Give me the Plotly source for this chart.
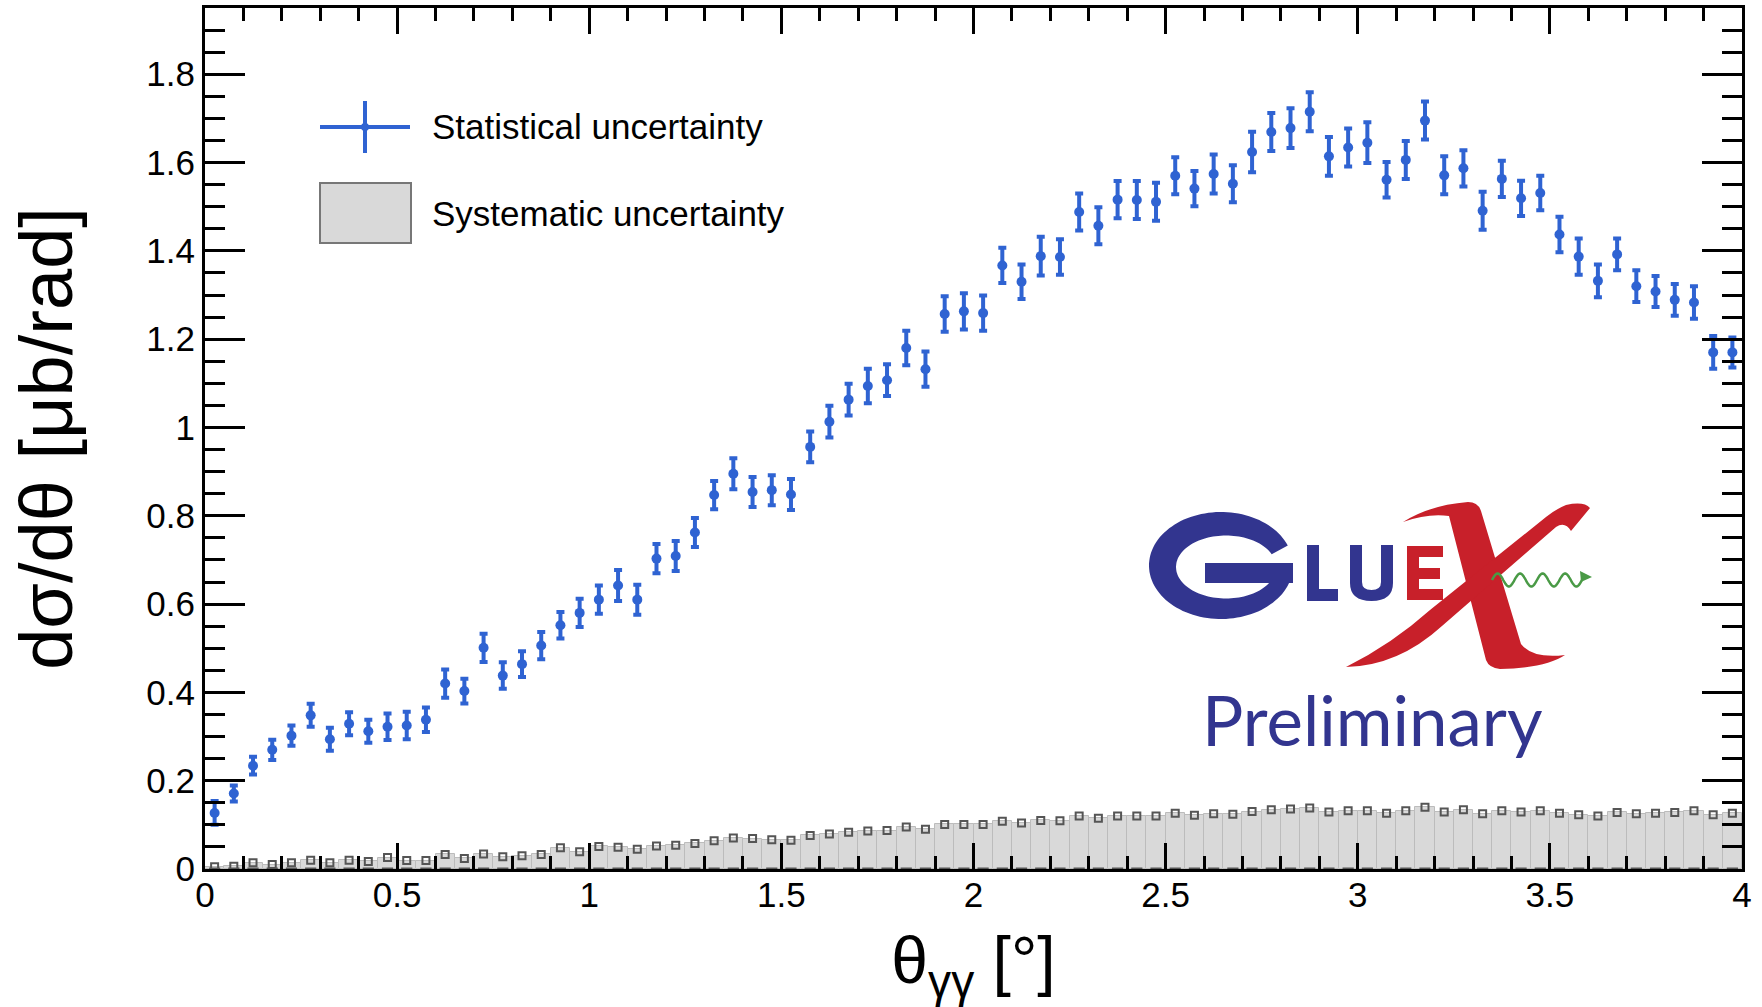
import re
import math
import plotly.graph_objects as go

# ---------------------------------------------------------------- data
theta_bins = [
    0.025, 0.075, 0.125, 0.175, 0.225, 0.275, 0.325, 0.375, 0.425, 0.475,
    0.525, 0.575, 0.625, 0.675, 0.725, 0.775, 0.825, 0.875, 0.925, 0.975,
    1.025, 1.075, 1.125, 1.175, 1.225, 1.275, 1.325, 1.375, 1.425, 1.475,
    1.525, 1.575, 1.625, 1.675, 1.725, 1.775, 1.825, 1.875, 1.925, 1.975,
    2.025, 2.075, 2.125, 2.175, 2.225, 2.275, 2.325, 2.375, 2.425, 2.475,
    2.525, 2.575, 2.625, 2.675, 2.725, 2.775, 2.825, 2.875, 2.925, 2.975,
    3.025, 3.075, 3.125, 3.175, 3.225, 3.275, 3.325, 3.375, 3.425, 3.475,
    3.525, 3.575, 3.625, 3.675, 3.725, 3.775, 3.825, 3.875, 3.925, 3.975,
]

dsigma = [
    0.127, 0.171, 0.234, 0.270, 0.302, 0.348, 0.294, 0.329, 0.312, 0.322,
    0.325, 0.338, 0.420, 0.403, 0.501, 0.438, 0.464, 0.506, 0.552, 0.580,
    0.610, 0.642, 0.610, 0.703, 0.709, 0.762, 0.847, 0.895, 0.854, 0.858,
    0.848, 0.956, 1.013, 1.063, 1.094, 1.107, 1.180, 1.132, 1.257, 1.263,
    1.259, 1.367, 1.330, 1.388, 1.386, 1.488, 1.457, 1.516, 1.515, 1.511,
    1.570, 1.541, 1.574, 1.552, 1.624, 1.669, 1.678, 1.715, 1.614, 1.634,
    1.645, 1.561, 1.606, 1.695, 1.571, 1.587, 1.491, 1.563, 1.519, 1.531,
    1.437, 1.387, 1.332, 1.392, 1.320, 1.308, 1.289, 1.283, 1.170, 1.170,
]

stat_err = [
    0.027, 0.018, 0.020, 0.023, 0.023, 0.026, 0.026, 0.026, 0.026, 0.030,
    0.031, 0.028, 0.032, 0.028, 0.032, 0.030, 0.029, 0.031, 0.030, 0.032,
    0.032, 0.035, 0.034, 0.033, 0.034, 0.033, 0.032, 0.035, 0.034, 0.034,
    0.035, 0.035, 0.036, 0.036, 0.039, 0.036, 0.039, 0.040, 0.040, 0.041,
    0.040, 0.040, 0.039, 0.044, 0.040, 0.042, 0.042, 0.042, 0.043, 0.043,
    0.042, 0.040, 0.044, 0.042, 0.046, 0.043, 0.045, 0.044, 0.044, 0.043,
    0.046, 0.040, 0.043, 0.043, 0.043, 0.041, 0.043, 0.041, 0.040, 0.039,
    0.040, 0.041, 0.037, 0.036, 0.036, 0.035, 0.036, 0.037, 0.037, 0.034,
]

syst_err = [
    0.005, 0.006, 0.014, 0.010, 0.014, 0.020, 0.014, 0.020, 0.017, 0.026,
    0.019, 0.019, 0.033, 0.024, 0.034, 0.028, 0.030, 0.033, 0.048, 0.039,
    0.051, 0.049, 0.045, 0.052, 0.054, 0.058, 0.064, 0.070, 0.069, 0.066,
    0.065, 0.076, 0.079, 0.083, 0.086, 0.087, 0.095, 0.090, 0.101, 0.101,
    0.101, 0.108, 0.104, 0.110, 0.109, 0.120, 0.115, 0.120, 0.120, 0.120,
    0.126, 0.122, 0.125, 0.124, 0.130, 0.134, 0.136, 0.138, 0.129, 0.132,
    0.132, 0.126, 0.132, 0.140, 0.129, 0.134, 0.125, 0.132, 0.129, 0.132,
    0.126, 0.123, 0.120, 0.128, 0.125, 0.126, 0.128, 0.132, 0.123, 0.126,
]
baseline = [0.0] * len(theta_bins)

x_ticks = [0, 0.5, 1, 1.5, 2, 2.5, 3, 3.5, 4]
x_tick_text = ["0", "0.5", "1", "1.5", "2", "2.5", "3", "3.5", "4"]

BIN_WIDTH = 0.05
BLUE = "#2f63d2"
NAVY = "#32358f"
RED = "#c8202a"
GREEN = "#4a9a46"
FONT = "Liberation Sans, Arial, Helvetica, sans-serif"

# ---------------------------------------------------------------- frame geometry (pixels)
W, H = 1762, 1007
L, R, T, B = 205, 1742, 8, 869


def px(x):
    return (x - L) / (R - L)


def py(y):
    return (B - y) / (B - T)


def to_paper(d):
    """Convert an SVG path written in pixel units into paper units."""
    def rep(m):
        return f"{px(float(m.group(1))):.5f},{py(float(m.group(2))):.5f}"
    return re.sub(r"(-?\d+\.?\d*),(-?\d+\.?\d*)", rep, d)


fig = go.Figure()

# systematic uncertainty band (grey histogram)
fig.add_trace(go.Bar(
    x=theta_bins, y=syst_err, width=BIN_WIDTH,
    marker=dict(color="#d9d9d9", line=dict(color="#bcbcbc", width=1)),
    showlegend=False, hoverinfo="skip",
))
fig.add_trace(go.Scatter(
    x=theta_bins, y=syst_err, mode="markers",
    marker=dict(symbol="square-open", size=7, color="#555555", line=dict(width=2)),
    showlegend=False, hoverinfo="skip",
))
fig.add_trace(go.Scatter(
    x=theta_bins, y=baseline, mode="markers",
    marker=dict(symbol="line-ew", size=8, color="#555555", line=dict(width=3, color="#555555")),
    showlegend=False, hoverinfo="skip",
))

# cross section with statistical error bars
fig.add_trace(go.Scatter(
    x=theta_bins, y=dsigma, mode="markers",
    marker=dict(symbol="circle", size=10, color=BLUE),
    error_y=dict(type="data", array=stat_err, visible=True,
                 color=BLUE, thickness=4, width=4),
    showlegend=False,
))

shapes = []
annotations = []

# ---------------------------------------------------------------- legend
shapes += [
    dict(type="line", xref="paper", yref="paper", x0=px(320), x1=px(410), y0=py(127), y1=py(127),
         line=dict(color=BLUE, width=4)),
    dict(type="line", xref="paper", yref="paper", x0=px(365), x1=px(365), y0=py(101), y1=py(153),
         line=dict(color=BLUE, width=4)),
    dict(type="circle", xref="paper", yref="paper", x0=px(361), x1=px(369), y0=py(123), y1=py(131),
         fillcolor=BLUE, line=dict(width=0)),
    dict(type="rect", xref="paper", yref="paper", x0=px(320), x1=px(411), y0=py(183), y1=py(243),
         fillcolor="#d9d9d9", line=dict(color="#777777", width=2)),
]
for label, yc in [("Statistical uncertainty", 127), ("Systematic uncertainty", 213)]:
    annotations.append(dict(
        text=label, xref="paper", yref="paper", x=px(430), y=py(yc),
        xanchor="left", yanchor="middle", showarrow=False,
        font=dict(family=FONT, size=35, color="black"),
    ))

# ---------------------------------------------------------------- GlueX logo
# big elliptical "G"
outer = [(1221 + 72 * math.cos(math.radians(a)), 565.5 - 53.5 * math.sin(math.radians(a)))
         for a in range(22, 346, 3)]
inner = [(1226 + 50 * math.cos(math.radians(a)), 567 - 31.5 * math.sin(math.radians(a)))
         for a in range(345, 21, -3)]
ring = "M " + " L ".join(f"{x:.1f},{y:.1f}" for x, y in outer + inner) + " Z"
logo_paths = [
    (ring, NAVY),
    ("M 1205,563 L 1293,563 L 1293,583 L 1205,583 Z", NAVY),
    # L
    ("M 1307,545 L 1319,545 L 1319,589 L 1338,589 L 1338,601 L 1307,601 Z", NAVY),
    # U
    ("M 1350,545 L 1362,545 L 1362,582 Q 1362,590 1371.5,590 Q 1381,590 1381,582 "
     "L 1381,545 L 1393,545 L 1393,583 Q 1393,601 1371.5,601 Q 1350,601 1350,583 Z", NAVY),
    # E
    ("M 1407,546 L 1443,546 L 1443,557 L 1419,557 L 1419,568 L 1440,568 L 1440,579 "
     "L 1419,579 L 1419,589 L 1443,589 L 1443,600 L 1407,600 Z", RED),
    # X : thick stroke
    ("M 1403,522 Q 1430,505 1468,502 Q 1478,502 1481,511 L 1521,644 Q 1533,659 1565,655 "
     "Q 1546,668 1500,669 Q 1489,668 1486,660 L 1449,516 Q 1428,513 1403,522 Z", RED),
    # X : thin swash stroke
    ("M 1346,667 Q 1398,666 1442,626 L 1556,527 Q 1565,521 1571,531 L 1590,508 "
     "Q 1584,501 1566,505 Q 1556,509 1546,517 L 1430,610 Q 1392,644 1346,667 Z", RED),
]
for d, c in logo_paths:
    shapes.append(dict(type="path", xref="paper", yref="paper", path=to_paper(d),
                       fillcolor=c, line=dict(width=0), layer="above"))

# photon wave with arrow
wave_pts = []
n = 120
for i in range(n + 1):
    xx = 1492 + (1582 - 1492) * i / n
    yy = 580 + 6.5 * math.sin(2 * math.pi * 4 * i / n + math.pi)
    wave_pts.append(f"{xx:.1f},{yy:.1f}")
shapes.append(dict(type="path", xref="paper", yref="paper",
                   path=to_paper("M " + " L ".join(wave_pts)),
                   line=dict(color=GREEN, width=2.5), layer="above"))
shapes.append(dict(type="path", xref="paper", yref="paper",
                   path=to_paper("M 1580,571 L 1592,577 L 1581,582 Z"),
                   fillcolor=GREEN, line=dict(width=0), layer="above"))

annotations.append(dict(
    text="Preliminary", xref="paper", yref="paper", x=px(1200), y=py(719),
    xanchor="left", yanchor="middle", showarrow=False,
    font=dict(family="Lato, Open Sans, sans-serif", size=69, color=NAVY),
))

# ---------------------------------------------------------------- axes
axis_common = dict(
    showline=True, linewidth=3, linecolor="black", mirror="allticks",
    ticks="inside", tickwidth=3, tickcolor="black",
    showgrid=False, zeroline=False,
    tickfont=dict(family=FONT, size=35, color="black"),
)
fig.update_xaxes(
    range=[0, 4], tickvals=x_ticks, ticktext=x_tick_text, ticklen=26,
    minor=dict(dtick=0.1, tick0=0, ticklen=13, tickwidth=3, tickcolor="black", ticks="inside"),
    title=dict(text="θ<sub>γγ</sub> [°]", font=dict(family=FONT, size=66, color="black"), standoff=29),
    ticklabelstandoff=-7,
    **axis_common,
)
fig.update_yaxes(
    range=[0, 1.95], dtick=0.2, tick0=0, ticklen=40,
    minor=dict(dtick=0.05, tick0=0, ticklen=20, tickwidth=3, tickcolor="black", ticks="inside"),
    title=dict(text="dσ/dθ [μb/rad]", font=dict(family=FONT, size=74, color="black"), standoff=50),
    ticklabelstandoff=0,
    **axis_common,
)

fig.update_layout(
    width=W, height=H,
    margin=dict(l=L, r=W - R, t=T, b=H - B, autoexpand=False),
    paper_bgcolor="white", plot_bgcolor="white",
    bargap=0, showlegend=False,
    shapes=shapes, annotations=annotations,
)

fig.write_html("out.html")
